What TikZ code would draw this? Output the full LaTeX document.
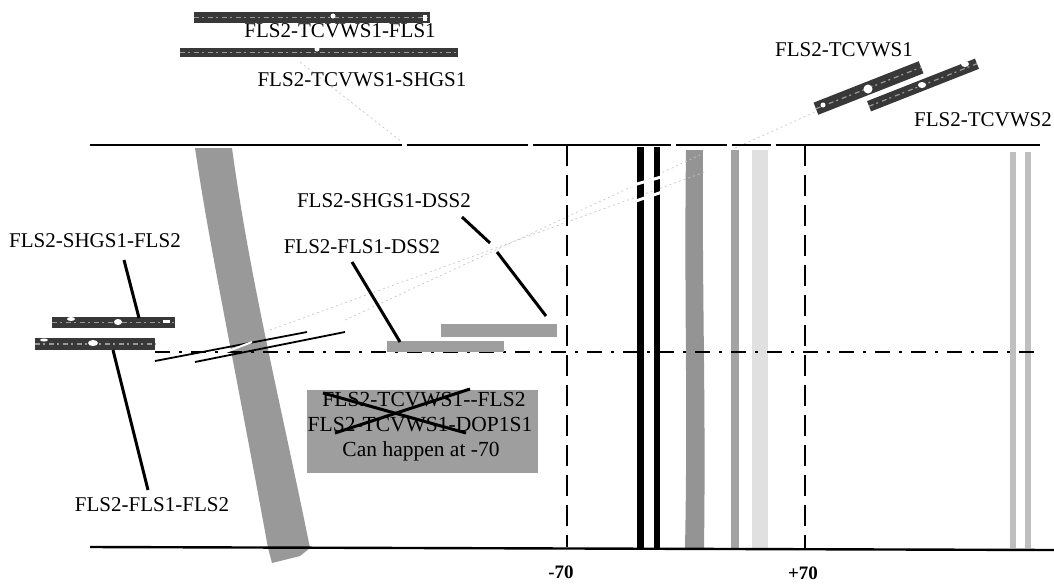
\documentclass[tikz,border=0pt]{standalone}
\usepackage{fontspec}
\setmainfont{Liberation Serif}
\usetikzlibrary{calc}
\tikzset{
  x=1pt,y=-1pt,
  lbl/.style={font=\fontsize{21}{23}\selectfont,inner sep=0pt,text=black},
  boxlbl/.style={font=\fontsize{21.5}{23}\selectfont,inner sep=0pt,text=black},
  ticklbl/.style={font=\fontsize{19}{21}\selectfont\bfseries,inner sep=0pt,text=black},
  darkbar/.style={draw=none,fill=black!78,inner sep=0pt,minimum height=11pt},
  graybar/.style={draw=none,fill=black!38,inner sep=0pt,minimum height=12pt},
  frameline/.style={line width=2.4pt,black},
  limitline/.style={line width=2.8pt,black,dash pattern=on 21pt off 9pt},
  axisline/.style={line width=2.6pt,black,dash pattern=on 15pt off 9pt on 3pt off 9pt},
  leader/.style={line width=3pt,black},
  thinslant/.style={line width=1.8pt,black},
  faint/.style={line width=.7pt,black!22,dash pattern=on 2pt off 3pt},
  blackband/.style={line width=7pt,black},
  gapline/.style={line width=3pt,white},
  streak/.style={line width=1.2pt,black!40,dash pattern=on 5pt off 3pt on 2pt off 4pt},
  hole/.style={fill=white,draw=none},
}
\begin{document}
\begin{tikzpicture}
\useasboundingbox (0,0) rectangle (1054,584);
% gray vertical bands
\fill[black!40] (195,148) .. controls (210,250) and (232,350) .. (268,548) -- (272,563) -- (300,556) -- (310,548) .. controls (280,400) and (250,280) .. (232,148) -- cycle;
\fill[black!42] (686,150) .. controls (684,300) and (688,400) .. (685,548) -- (704,548) .. controls (706,400) and (702,300) .. (703,150) -- cycle;
\fill[black!36] (731,150) rectangle (739,548);
\fill[black!12] (752,150) rectangle (768,548);
\fill[black!25] (1010,152) rectangle (1016,548);
\fill[black!25] (1025,152) rectangle (1031,548);
% faint ray traces
\coordinate (fa1) at (270,330); \coordinate (fb1) at (705,172);
\coordinate (fa2) at (345,320); \coordinate (fb2) at (700,155);
\coordinate (fa3) at (300,62);  \coordinate (fb3) at (402,142);
\coordinate (fa4) at (735,148); \coordinate (fb4) at (815,112);
\draw[faint] (fa1) -- (fb1);
\draw[faint] (fa2) -- (fb2);
\draw[faint] (fa3) -- (fb3);
\draw[faint] (fa4) -- (fb4);
% black bands with gaps
\coordinate (ba) at (640,147); \coordinate (bb) at (640,548);
\coordinate (bc) at (657,147); \coordinate (bd) at (657,548);
\draw[blackband] (ba) -- (bb);
\draw[blackband,line width=6.5pt] (bc) -- (bd);
\coordinate (g1a) at (630,186); \coordinate (g1b) at (668,175);
\coordinate (g2a) at (630,203); \coordinate (g2b) at (668,190);
\draw[gapline] (g1a) -- (g1b);
\draw[gapline] (g2a) -- (g2b);
% frame
\coordinate (tl) at (90,145);  \coordinate (tr) at (1040,145);
\coordinate (bl) at (90,547);  \coordinate (br) at (1054,550);
\draw[frameline] (tl) -- (tr);
\draw[frameline] (bl) -- (br);
\foreach \gx in {404,530,673,729,773}{\fill[white] (\gx-2.5,142) rectangle (\gx+2.5,148);}
% limit and axis lines
\coordinate (m70t) at (567,145); \coordinate (m70b) at (567,547);
\coordinate (p70t) at (805,145); \coordinate (p70b) at (805,549);
\draw[limitline] (m70t) -- (m70b);
\draw[limitline] (p70t) -- (p70b);
\coordinate (axl) at (155,352); \coordinate (axr) at (1040,352);
\draw[axisline] (axl) -- (axr);
% top bars
\node[darkbar,minimum width=236pt,minimum height=11pt] (bar1) at (312,17.5) {};
\node[darkbar,minimum width=278pt,minimum height=9pt] (bar2) at (319,52.5) {};
\draw[streak] (bar1.west) -- (bar1.east);
\draw[streak] (bar2.west) -- (bar2.east);
\fill[hole] (333,16) circle (2.5);
\fill[hole] (317,49) circle (2.5);
\fill[hole] (423,15) rectangle (427,21);
% left bars
\node[darkbar,minimum width=123pt] (bar3) at (113.5,322.5) {};
\node[darkbar,minimum width=120pt,minimum height=12pt] (bar4) at (95,344) {};
\draw[streak] (bar3.west) -- (bar3.east);
\draw[streak] (bar4.west) -- (bar4.east);
\fill[hole] (71,319) ellipse (4 and 2);
\fill[hole] (118,322) ellipse (4 and 3);
\fill[hole] (163,320) rectangle (170,323);
\fill[hole] (93,343) ellipse (5 and 3);
\fill[hole] (44,340) ellipse (4 and 1.5);
% right tilted bars
\node[darkbar,rotate=21.5,minimum width=113pt,minimum height=13pt] (bar7) at (868.5,88) {};
\node[darkbar,rotate=21.5,minimum width=116pt,minimum height=11pt] (bar8) at (923,85) {};
\draw[streak] (bar7.west) -- (bar7.east);
\draw[streak] (bar8.west) -- (bar8.east);
\fill[hole] (868,89) circle (4.5);
\fill[hole] (823,105) circle (2.5);
\fill[hole] (922,85) ellipse (4 and 3);
\fill[hole] (965,64) ellipse (4 and 3);
% gray bars
\node[graybar,minimum width=116pt,minimum height=13pt] (bar5) at (499,330) {};
\node[graybar,minimum width=117pt,minimum height=11pt] (bar6) at (445.5,346.5) {};
% thin slanted
\coordinate (s1a) at (155,361); \coordinate (s1b) at (307,332);
\coordinate (s2a) at (195,362); \coordinate (s2b) at (345,332);
\draw[thinslant] (s1a) -- (s1b);
\draw[thinslant] (s2a) -- (s2b);
\coordinate (wa) at (226,352); \coordinate (wb) at (252,342);
\draw[gapline,line width=2pt] (wa) -- (wb);
% labels
\node[lbl] (t1) at (340,31) {FLS2-TCVWS1-FLS1};
\node[lbl] (t2) at (362,80) {FLS2-TCVWS1-SHGS1};
\node[lbl] (t3) at (844,50) {FLS2-TCVWS1};
\node[lbl] (t4) at (983,120) {FLS2-TCVWS2};
\node[lbl] (t5) at (384,201) {FLS2-SHGS1-DSS2};
\node[lbl] (t6) at (362,247) {FLS2-FLS1-DSS2};
\node[lbl] (t7) at (95,241) {FLS2-SHGS1-FLS2};
\node[lbl] (t8) at (152,505) {FLS2-FLS1-FLS2};
\node[ticklbl] (m70) at (561,572) {-70};
\node[ticklbl] (p70) at (803,573) {+70};
% leaders
\coordinate (l5a) at (462,217); \coordinate (l5b) at (490,243);
\coordinate (l5c) at (497,252); \coordinate (l5d) at (546,316);
\draw[leader] (l5a) -- (l5b);
\draw[leader] (l5c) -- (l5d);
\coordinate (l6a) at (352,262); \coordinate (l6b) at (400,342);
\draw[leader] (l6a) -- (l6b);
\coordinate (l7a) at (124,260); \coordinate (l7b) at (139,318);
\draw[leader] (l7a) -- (l7b);
\coordinate (l8a) at (113,350); \coordinate (l8b) at (148,490);
\draw[leader] (l8a) -- (l8b);
% crossed-out box
\node[draw=none,fill=black!38,inner sep=0pt,minimum width=231pt,minimum height=83pt] (box) at (422.5,431.5) {};
\node[boxlbl] (c1) at (424,400) {FLS2-TCVWS1-{}-FLS2};
\node[boxlbl] (c2) at (420,425) {FLS2-TCVWS1-DOP1S1};
\node[boxlbl] (c3) at (421,451) {Can happen at -70};
\coordinate (x1a) at (323,393); \coordinate (x1b) at (466,433);
\coordinate (x2a) at (335,433); \coordinate (x2b) at (470,389);
\draw[leader] (x1a) -- (x1b);
\draw[leader] (x2a) -- (x2b);
\end{tikzpicture}
\end{document}
